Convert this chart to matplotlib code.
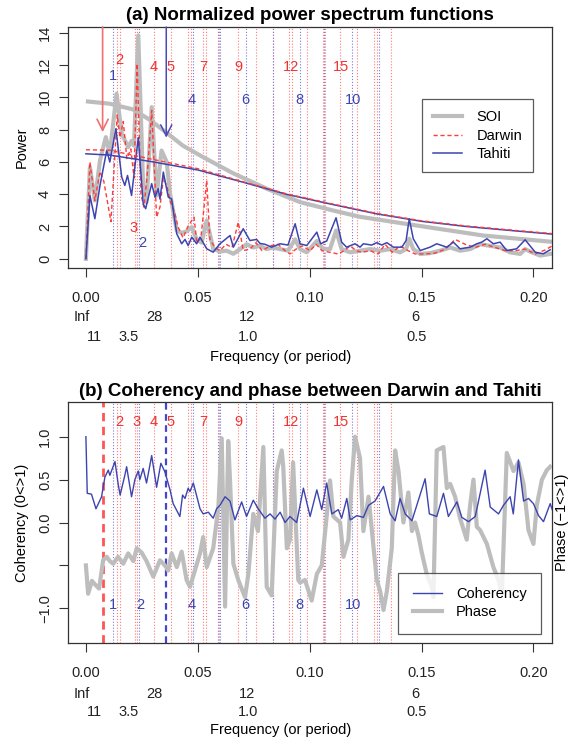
import matplotlib
matplotlib.use("Agg")
import matplotlib.pyplot as plt
from matplotlib.transforms import blended_transform_factory

plt.rcParams['font.family'] = ['Liberation Sans', 'DejaVu Sans']

# ---------------- data ----------------
# Panel (a): spectra (frequency, power)
tahiti_f = [0, 0.0018, 0.0040, 0.0063, 0.0093, 0.0107, 0.0134, 0.0160, 0.0174, 0.0186, 0.0204, 0.0234,
            0.0256, 0.0267, 0.0294, 0.0309, 0.0323, 0.0331, 0.0346, 0.0368, 0.0383, 0.0406, 0.0428, 0.0443,
            0.0457, 0.0473, 0.0495, 0.0510, 0.0540, 0.0569, 0.0599, 0.0644, 0.0659, 0.0703, 0.0733, 0.0763,
            0.0778, 0.0800, 0.0830, 0.0868, 0.0903, 0.0935, 0.0957, 0.0987, 0.1032, 0.1049, 0.1076, 0.1118,
            0.1143, 0.1165, 0.1203, 0.1225, 0.1240, 0.1277, 0.1300, 0.1322, 0.1345, 0.1374, 0.1412, 0.1431,
            0.1445, 0.1463, 0.1494, 0.1538, 0.1568, 0.1613, 0.1642, 0.1672, 0.1717, 0.1747, 0.1769, 0.1792,
            0.1821, 0.1851, 0.1881, 0.1925, 0.1963, 0.1985, 0.2008, 0.2044, 0.2075]
tahiti_p = [0, 3.92, 2.48, 4.54, 6.71, 5.99, 8.05, 5.06, 4.54, 5.16, 3.92, 7.5,
            3.41, 3.1, 4.65, 3.82, 4.34, 3.7, 5.37, 3.82, 3.7, 1.55, 0.93, 1.2,
            0.82, 1.34, 0.93, 1.34, 0.62, 0.41, 0.93, 1.44, 0.72, 1.86, 1.13, 1.2,
            0.95, 0.9, 0.72, 0.93, 0.85, 2.17, 0.93, 0.82, 1.65, 0.93, 1.1, 2.54,
            1.03, 0.72, 0.93, 0.72, 0.93, 0.85, 1.0, 0.85, 1.0, 0.72, 0.72, 1.13,
            2.48, 1.24, 0.51, 0.72, 0.93, 0.72, 1.03, 0.62, 0.72, 0.93, 1.03, 1.24,
            0.93, 1.03, 0.51, 0.62, 1.18, 0.8, 0.41, 0.31, 0.56]

soi_f = [0, 0.0018, 0.0040, 0.0063, 0.0089, 0.0107, 0.0137, 0.0160, 0.0189, 0.0204, 0.0215, 0.0234,
         0.0256, 0.0271, 0.0294, 0.0316, 0.0338, 0.0361, 0.0376, 0.0406, 0.0428, 0.0450, 0.0473, 0.0495,
         0.0517, 0.0540, 0.0569, 0.0599, 0.0629, 0.0659, 0.0689, 0.0718, 0.0748, 0.0778, 0.0808, 0.0836,
         0.0868, 0.0903, 0.0935, 0.0957, 0.0987, 0.1032, 0.1060, 0.1091, 0.1118, 0.1143, 0.1181, 0.1225,
         0.1270, 0.1315, 0.1360, 0.1404, 0.1431, 0.1445, 0.1463, 0.1494, 0.1538, 0.1583, 0.1628, 0.1672,
         0.1717, 0.1762, 0.1807, 0.1851, 0.1896, 0.1941, 0.1963, 0.1985, 0.2030, 0.2075]
soi_p = [0, 5.67, 3.61, 6.09, 7.53, 6.5, 10.22, 7.74, 6.91, 7.3, 7.0, 13.83,
         4.44, 3.5, 9.39, 3.92, 6.7, 6.0, 4.03, 1.75, 1.6, 1.7, 1.96, 1.2,
         1.0, 2.37, 0.62, 0.45, 0.5, 0.31, 0.6, 0.9, 0.7, 0.8, 0.6, 0.7,
         0.6, 0.5, 1.2, 0.6, 0.4, 1.1, 0.6, 0.6, 1.75, 0.6, 0.4, 0.5,
         0.6, 0.5, 0.6, 0.4, 0.6, 1.24, 0.6, 0.3, 0.35, 0.5, 0.7, 0.5,
         0.6, 0.9, 0.8, 0.7, 0.4, 0.3, 0.6, 0.45, 0.2, 0.3]

darwin_f = [0, 0.0018, 0.0040, 0.0063, 0.0080, 0.0112, 0.0140, 0.0152, 0.0167, 0.0183, 0.0201, 0.0215,
            0.0229, 0.0246, 0.0259, 0.0273, 0.0294, 0.0316, 0.0331, 0.0346, 0.0362, 0.0376, 0.0398, 0.0411,
            0.0434, 0.0456, 0.0483, 0.0496, 0.0514, 0.0540, 0.0554, 0.0577, 0.0599, 0.0626, 0.0653, 0.0681,
            0.0703, 0.0733, 0.0760, 0.0787, 0.0823, 0.0858, 0.0890, 0.0912, 0.0939, 0.0966, 0.1002, 0.1029,
            0.1055, 0.1091, 0.1127, 0.1154, 0.1181, 0.1208, 0.1234, 0.1270, 0.1306, 0.1337, 0.1369, 0.1404,
            0.1440, 0.1471, 0.1516, 0.1561, 0.1606, 0.1650, 0.1695, 0.1740, 0.1784, 0.1829, 0.1874, 0.1919,
            0.1963, 0.2008, 0.2053, 0.2084]
darwin_p = [0, 5.99, 3.61, 5.4, 4.8, 2.3, 8.9, 7.5, 8.5, 6.2, 6.8, 5.0,
            12.08, 4.0, 3.2, 5.0, 9.19, 2.58, 3.2, 5.0, 4.5, 3.61, 2.8, 2.0,
            1.3, 2.0, 2.58, 1.0, 1.3, 4.85, 1.2, 0.7, 0.5, 0.9, 0.7, 2.27,
            0.51, 0.6, 1.0, 0.5, 0.8, 0.9, 0.5, 0.3, 0.6, 0.8, 0.5, 0.9,
            0.5, 0.4, 0.3, 0.5, 0.8, 0.5, 0.4, 0.5, 0.3, 0.9, 0.4, 0.8,
            0.5, 0.3, 0.3, 0.35, 0.6, 1.2, 0.9, 0.7, 0.9, 0.7, 0.5, 0.5,
            0.6, 0.3, 0.55, 0.8]

# background (null) spectra
bg_f = [0, 0.0107, 0.021, 0.0286, 0.0361, 0.0434, 0.051, 0.0657, 0.0808, 0.0957, 0.1105, 0.1225,
        0.1479, 0.1776, 0.2083]
soi_bg = [9.75, 9.6, 9.25, 8.6, 7.8, 7.0, 6.4, 5.3, 4.34, 3.51, 2.99, 2.6, 2.06, 1.44, 1.05]
tb_f = [0, 0.0107, 0.03, 0.05, 0.07, 0.09, 0.11, 0.13, 0.15, 0.17, 0.19, 0.2083]
tahiti_bg = [6.5, 6.42, 6.0, 5.5, 4.75, 3.98, 3.37, 2.78, 2.32, 2.0, 1.75, 1.53]
darwin_bg = [6.75, 6.72, 6.15, 5.58, 4.78, 4.01, 3.40, 2.81, 2.35, 2.03, 1.78, 1.56]

# Panel (b): coherency and phase
coh_f = [0, 0.0006, 0.0025, 0.0045, 0.0063, 0.0070, 0.0085, 0.0100, 0.0107, 0.0130, 0.0144, 0.0153,
         0.0174, 0.0182, 0.0204, 0.0219, 0.0234, 0.0241, 0.0256, 0.0271, 0.0294, 0.0316, 0.0335, 0.0353,
         0.0376, 0.0390, 0.0420, 0.0432, 0.0443, 0.0457, 0.0465, 0.0480, 0.0510, 0.0524, 0.0547, 0.0569,
         0.0584, 0.0599, 0.0622, 0.0644, 0.0666, 0.0696, 0.0718, 0.0748, 0.0770, 0.0800, 0.0823, 0.0845,
         0.0868, 0.0890, 0.0912, 0.0942, 0.0972, 0.1002, 0.1032, 0.1054, 0.1076, 0.1099, 0.1128, 0.1143,
         0.1166, 0.1181, 0.1211, 0.1240, 0.1263, 0.1292, 0.1330, 0.1360, 0.1382, 0.1404, 0.1427, 0.1457,
         0.1516, 0.1535, 0.1568, 0.1598, 0.1620, 0.1658, 0.1680, 0.1710, 0.1740, 0.1784, 0.1807, 0.1844,
         0.1866, 0.1896, 0.1910, 0.1933, 0.1956, 0.1978, 0.2000, 0.2023, 0.2045, 0.2075, 0.2084]
coh_v = [1.0, 0.34, 0.33, 0.16, 0.26, 0.3, 0.53, 0.61, 0.55, 0.71, 0.45, 0.32,
         0.55, 0.65, 0.30, 0.5, 0.6, 0.5, 0.63, 0.46, 0.78, 0.41, 0.69, 0.59,
         0.38, 0.22, 0.07, 0.32, 0.28, 0.4, 0.36, 0.46, 0.16, 0.1, 0.12, 0.05,
         0.16, 0.2, 0.30, 0.25, 0.03, 0.24, 0.07, 0.26, 0.16, 0.05, 0.1, 0.04,
         0.12, 0.0, 0.07, 0.0, 0.40, 0.07, 0.38, 0.15, 0.46, 0.1, 0.15, 0.05,
         0.28, 0.03, 0.08, 0.06, 0.20, 0.25, 0.42, 0.1, 0.02, 0.28, 0.1, 0.02,
         0.51, 0.1, 0.07, 0.34, 0.07, 0.24, 0.06, 0.01, 0.07, 0.61, 0.18, 0.1,
         0.2, 0.30, 0.1, 0.73, 0.25, 0.28, 0.22, 0.08, 0.01, 0.22, 0.15]

ph_f = [0, 0.0010, 0.0027, 0.0040, 0.0059, 0.0077, 0.0093, 0.0107, 0.0122, 0.0144, 0.0167, 0.0189,
        0.0212, 0.0227, 0.0249, 0.0271, 0.0301, 0.0331, 0.0353, 0.0368, 0.0383, 0.0406, 0.0428, 0.0450,
        0.0465, 0.0480, 0.0510, 0.0524, 0.0540, 0.0569, 0.0592, 0.0607, 0.0622, 0.0636, 0.0644, 0.0659,
        0.0681, 0.0711, 0.0726, 0.0748, 0.0769, 0.0793, 0.0808, 0.0830, 0.0853, 0.0875, 0.0882, 0.0898,
        0.0912, 0.0926, 0.0949, 0.0957, 0.0979, 0.1009, 0.1032, 0.1054, 0.1076, 0.1091, 0.1106, 0.1136,
        0.1151, 0.1173, 0.1188, 0.1203, 0.1225, 0.1240, 0.1263, 0.1300, 0.1315, 0.1330, 0.1345, 0.1367,
        0.1382, 0.1397, 0.1419, 0.1441, 0.1457, 0.1471, 0.1486, 0.1501, 0.1523, 0.1546, 0.1553, 0.1568,
        0.1598, 0.1613, 0.1628, 0.1650, 0.1672, 0.1702, 0.1717, 0.1732, 0.1747, 0.1762, 0.1792, 0.1821,
        0.1844, 0.1859, 0.1881, 0.1911, 0.1933, 0.1956, 0.1978, 0.2000, 0.2015, 0.2038, 0.2060, 0.2075]
ph_v = [-0.5, -0.83, -0.68, -0.72, -0.77, -0.44, -0.40, -0.45, -0.48, -0.40, -0.48, -0.36,
        -0.45, -0.30, -0.35, -0.45, -0.63, -0.44, -0.5, -0.56, -0.36, -0.52, -0.34, -0.67,
        -0.75, -0.62, -0.36, -0.17, -0.52, -0.3, 0.18, 0.98, -0.98, 0.95, 0.5, -0.48,
        -0.67, -0.87, -0.6, 0.1, -0.1, 0.88, -0.75, -0.85, 0.6, 0.84, 0.65, -0.3,
        -0.2, 0.7, -0.67, -0.70, -0.67, -0.91, -0.6, -0.5, 0.07, 0.49, 0.07, 0.0,
        -0.4, -0.2, 0.49, 1.0, 0.75, -0.1, 0.3, -0.67, -0.8, -1.02, -0.8, -0.3,
        0.84, 0.6, 0.0, 0.35, -0.1, 0.0, -0.15, -0.35, -0.6, -0.75, -0.87, 0.84,
        0.88, 0.4, 0.45, 0.3, 0.05, -0.2, 0.2, 0.5, -0.05, -0.09, -0.25, -0.52,
        -0.67, -0.83, 0.81, 0.6, 0.7, 0.45, -0.09, -0.25, 0.2, 0.5, 0.61, 0.65]

# marked frequencies (vertical guide lines)
red_lines = [0.01386, 0.01543, 0.02191, 0.02281, 0.03041, 0.03801, 0.04562, 0.04696, 0.05233, 0.05367,
             0.05948, 0.06798, 0.07603, 0.0835, 0.09079, 0.09199, 0.0987, 0.10599, 0.10689, 0.1136,
             0.1212, 0.12894, 0.13001, 0.1364]
blue_lines = [0.01221, 0.02384, 0.04772, 0.05903, 0.06015, 0.07133, 0.0835, 0.09548, 0.10622, 0.11883,
              0.13104]
red_peak = 0.00747
blue_peak = 0.03591
red_arrow_tip = 7.84
blue_arrow_tip = 7.5

# peak labels
a_red_lab = ['2', '4', '5', '7', '9', '12', '15', '3']
a_red_x = [0.01476, 0.03041, 0.03801, 0.05233, 0.06798, 0.09168, 0.11404, 0.02147]
a_red_y = [12.29, 11.85, 11.85, 11.85, 11.85, 11.85, 11.85, 1.88]
a_blue_lab = ['1', '4', '6', '8', '10', '2']
a_blue_x = [0.01208, 0.04741, 0.07133, 0.09548, 0.11941, 0.02504]
a_blue_y = [11.29, 9.81, 9.81, 9.81, 9.81, 0.95]

b_red_lab = ['2', '3', '4', '5', '7', '9', '12', '15']
b_red_x = [0.01476, 0.02281, 0.03041, 0.03801, 0.05233, 0.06798, 0.09168, 0.11404]
b_blue_lab = ['1', '2', '4', '6', '8', '10']
b_blue_x = [0.01208, 0.02415, 0.04741, 0.07133, 0.09548, 0.11941]
b_red_y = 1.174
b_blue_y = -0.965

# axis labels
xticks = [0.00, 0.05, 0.10, 0.15, 0.20]
xticklabels = ['0.00', '0.05', '0.10', '0.15', '0.20']
period_lab = ['Inf', '28', '12', '6']
period_x = [-0.0019, 0.0304, 0.0719, 0.1471]
year_lab = ['11', '3.5', '1.0', '0.5']
year_x = [0.0040, 0.0189, 0.0726, 0.1476]

# ---------------- styling ----------------
C_SOI = '#bdbdbd'
C_DAR = '#ff3b3b'
C_TAH = '#3c44b0'
C_RDOT = '#ff7a7a'
C_BDOT = '#7a7ad8'
FS = 10.5

W, H = 577, 742
fig = plt.figure(figsize=(W / 100, H / 100), dpi=100)
axL, axR = 68, 552
axA = fig.add_axes([axL / W, 1 - 268 / H, (axR - axL) / W, 241 / H])
axB = fig.add_axes([axL / W, 1 - 643 / H, (axR - axL) / W, 241 / H])

XL = (-0.008, 0.2083)


def common(ax, ylim):
    ax.set_xlim(*XL)
    ax.set_ylim(*ylim)
    for s in ax.spines.values():
        s.set_color('#333333')
        s.set_linewidth(0.9)
    ax.tick_params(direction='out', length=6.5, width=0.8, color='#333333',
                   labelsize=FS, labelcolor='#222222')
    ax.tick_params(axis='x', pad=10)
    ax.tick_params(axis='y', pad=5)
    ax.set_xticks(xticks)
    ax.set_xticklabels(xticklabels)
    for v in red_lines:
        ax.axvline(v, color=C_RDOT, lw=0.8, ls=':', zorder=1)
    for v in blue_lines:
        ax.axvline(v, color=C_BDOT, lw=0.8, ls=':', zorder=1)
    tr = blended_transform_factory(ax.transData, ax.transAxes)
    return tr


# ---------- panel (a) ----------
ax = axA
tr = common(ax, (-0.57, 14.35))
ax.set_yticks([0, 2, 4, 6, 8, 10, 12, 14])
for lab in ax.get_yticklabels():
    lab.set_rotation(90)
    lab.set_va('center')
    lab.set_ha('right')

ax.plot(bg_f, soi_bg, color=C_SOI, lw=3, zorder=2, solid_capstyle='butt')
ax.plot(soi_f, soi_p, color=C_SOI, lw=3, zorder=2, label='SOI')
ax.plot(darwin_f, darwin_p, color=C_DAR, lw=1, ls=(0, (3, 2)), zorder=3, label='Darwin')
ax.plot(tahiti_f, tahiti_p, color=C_TAH, lw=1.1, zorder=4, label='Tahiti')
ax.plot(tb_f, tahiti_bg, color=C_TAH, lw=1.1, zorder=4)
ax.plot(tb_f, darwin_bg, color=C_DAR, lw=1, ls=(0, (3, 2)), zorder=5)

ax.annotate('', xy=(red_peak, red_arrow_tip), xytext=(red_peak, 14.35),
            arrowprops=dict(arrowstyle='->,head_length=0.8,head_width=0.4', color='#f07070', lw=1.2,
                            shrinkA=0, shrinkB=0), zorder=6)
ax.annotate('', xy=(blue_peak, blue_arrow_tip), xytext=(blue_peak, 14.35),
            arrowprops=dict(arrowstyle='->,head_length=0.8,head_width=0.4', color='#4a4ab8', lw=1.1,
                            shrinkA=0, shrinkB=0), zorder=6)

for t, x, y in zip(a_red_lab, a_red_x, a_red_y):
    ax.text(x, y, t, color='#ee3333', fontsize=FS, ha='center', va='center', zorder=7)
for t, x, y in zip(a_blue_lab, a_blue_x, a_blue_y):
    ax.text(x, y, t, color='#3c44b0', fontsize=FS, ha='center', va='center', zorder=7)

leg = ax.legend(loc='upper left', bbox_to_anchor=(0.7308, 0.70), borderaxespad=0, fontsize=10.5,
                frameon=True, fancybox=False, handlelength=2.0, handletextpad=1.0, borderpad=0.75,
                labelspacing=0.3)
leg.get_frame().set_edgecolor('#333333')
leg.get_frame().set_linewidth(0.9)
ax.set_title('(a) Normalized power spectrum functions', fontsize=13.5, fontweight='bold', pad=5)
ax.text(-0.095, 0.5, 'Power', rotation=90, va='center', ha='center', transform=ax.transAxes, fontsize=FS)

for t, x in zip(period_lab, period_x):
    ax.text(x, -0.204, t, transform=tr, ha='center', va='center', fontsize=FS, color='#222222')
for t, x in zip(year_lab, year_x):
    ax.text(x, -0.286, t, transform=tr, ha='center', va='center', fontsize=FS, color='#222222')
ax.text(0.44, -0.369, 'Frequency (or period)', transform=ax.transAxes, ha='center', va='center', fontsize=FS)

# ---------- panel (b) ----------
ax = axB
tr = common(ax, (-1.404, 1.404))
ax.set_yticks([-1.0, -0.5, 0.0, 0.5, 1.0])
ax.set_yticklabels(['\u22121.0', '', '0.0', '0.5', '1.0'])
for lab in ax.get_yticklabels():
    lab.set_rotation(90)
    lab.set_va('center')
    lab.set_ha('right')

ax.axvline(red_peak, color='#ff5555', lw=2, ls=(0, (3, 2)), zorder=2)
ax.axvline(blue_peak, color='#4646c8', lw=1.6, ls=(0, (3, 2)), zorder=2)
ax.plot(ph_f, ph_v, color=C_SOI, lw=3, zorder=3, label='Phase')
ax.plot(coh_f, coh_v, color=C_TAH, lw=1.0, zorder=4, label='Coherency')

for t, x in zip(b_red_lab, b_red_x):
    ax.text(x, b_red_y, t, color='#ee3333', fontsize=FS, ha='center', va='center', zorder=7)
for t, x in zip(b_blue_lab, b_blue_x):
    ax.text(x, b_blue_y, t, color='#3c44b0', fontsize=FS, ha='center', va='center', zorder=7)

h, l = ax.get_legend_handles_labels()
leg = ax.legend(h[::-1], l[::-1], loc='upper left', bbox_to_anchor=(0.6824, 0.2917), borderaxespad=0,
                fontsize=10.5, frameon=True, fancybox=False, handlelength=2.0, handletextpad=0.95,
                borderpad=1.0, labelspacing=0.25)
leg.get_frame().set_edgecolor('#333333')
leg.get_frame().set_linewidth(0.9)
leg.set_zorder(10)
ax.set_title('(b) Coherency and phase between Darwin and Tahiti', fontsize=13.5, fontweight='bold', pad=4)
ax.text(-0.095, 0.5, 'Coherency (0<>1)', rotation=90, va='center', ha='center', transform=ax.transAxes,
        fontsize=FS)
ax.text(1.0207, 0.5, 'Phase (\u22121<>1)', rotation=90, va='center', ha='center', transform=ax.transAxes,
        fontsize=FS)

for t, x in zip(period_lab, period_x):
    ax.text(x, -0.212, t, transform=tr, ha='center', va='center', fontsize=FS, color='#222222')
for t, x in zip(year_lab, year_x):
    ax.text(x, -0.286, t, transform=tr, ha='center', va='center', fontsize=FS, color='#222222')
ax.text(0.44, -0.361, 'Frequency (or period)', transform=ax.transAxes, ha='center', va='center', fontsize=FS)

fig.savefig('out.png', dpi=100)
